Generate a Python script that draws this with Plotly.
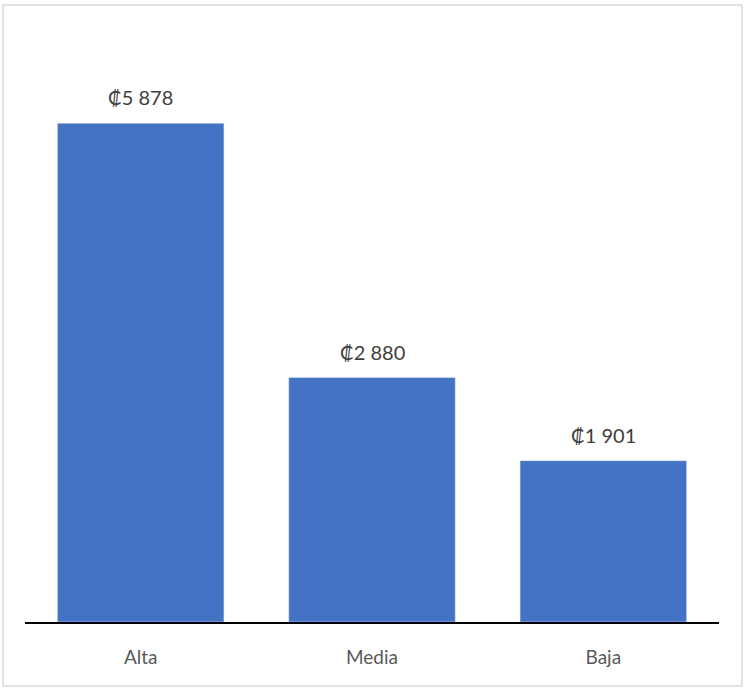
import plotly.graph_objects as go

categories = ["Alta", "Media", "Baja"]
values = [5878, 2880, 1901]


def colones(v):
    return "₡" + f"{v:,}".replace(",", " ")


fig = go.Figure()
fig.add_bar(
    x=categories,
    y=values,
    marker_color="#4472C4",
    hoverinfo="x+y",
)

for cat, val in zip(categories, values):
    fig.add_annotation(
        x=cat,
        y=val,
        text=colones(val),
        showarrow=False,
        yanchor="bottom",
        yshift=12,
        font=dict(size=20, color="#404040"),
    )

# chart border like the spreadsheet frame
fig.add_shape(
    type="rect",
    xref="paper",
    yref="paper",
    x0=-0.0317,
    x1=1.033,
    y0=-0.1077,
    y1=1.0387,
    line=dict(color="#d9d9d9", width=1.5),
)

fig.update_layout(
    width=748,
    height=688,
    margin=dict(l=25, r=29, t=28, b=66),
    paper_bgcolor="white",
    plot_bgcolor="white",
    bargap=0.28,
    showlegend=False,
    font=dict(family="Lato, Open Sans, sans-serif"),
    xaxis=dict(
        showline=True,
        linecolor="black",
        linewidth=2,
        ticks="",
        ticklabelstandoff=17,
        tickfont=dict(size=19, color="#595959"),
    ),
    yaxis=dict(
        range=[0, 7000],
        visible=False,
        showgrid=False,
    ),
)

# drop the default page margin so the figure sits at the window corner
fig.write_html(
    "out.html",
    config={"displayModeBar": False},
    post_script="document.body.style.margin='0px';",
)
